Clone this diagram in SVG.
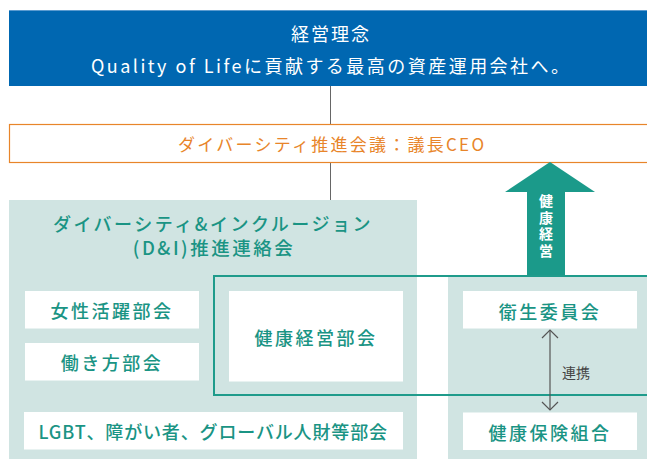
<svg xmlns="http://www.w3.org/2000/svg" width="647" height="459" viewBox="0 0 647 459">
<defs>
<style>
text{font-family:"Noto Sans CJK JP","Noto Sans",sans-serif;text-anchor:middle;dominant-baseline:central}
.white{fill:#ffffff}
.teal{fill:#1a9484}
.box{fill:#ffffff}
.panel{fill:#d0e4e2}
.lbl{font-size:18px;font-weight:500;letter-spacing:2.5px;fill:#1a9484}
.conn{stroke:#666;stroke-width:1;fill:none}
.chev{stroke:#555;stroke-width:1.2;fill:none}
</style>
</defs>
<rect x="0" y="0" width="647" height="459" fill="#ffffff"/>

<g id="philosophy">
<rect x="9" y="10" width="640" height="76" fill="#0067b1"/>
<line x1="9" y1="10.5" x2="647" y2="10.5" stroke="#5b9bd0" stroke-width="1"/>
<text x="331" y="33" class="white" font-size="18" letter-spacing="2">経営理念</text>
<text x="331" y="65" class="white" font-size="18" letter-spacing="2" textLength="480">Quality of Lifeに貢献する最高の資産運用会社へ。</text>
</g>

<g id="connectors">
<line x1="330.5" y1="86" x2="330.5" y2="124" class="conn"/>
<line x1="330.5" y1="162" x2="330.5" y2="200" class="conn"/>
</g>

<g id="council">
<rect x="9.5" y="124.5" width="640" height="38" fill="#ffffff" stroke="#e8852a" stroke-width="1.2"/>
<text x="331" y="143" font-size="17" fill="#e8852a" textLength="306">ダイバーシティ推進会議：議長CEO</text>
</g>

<g id="di-panel">
<rect x="9" y="200" width="408" height="262" class="panel"/>
<text x="213" y="223" class="teal" font-size="18" font-weight="500" letter-spacing="2.5">ダイバーシティ&amp;インクルージョン</text>
<text x="214" y="247" class="teal" font-size="18.5" font-weight="500" letter-spacing="2.5">(D&amp;I)推進連絡会</text>
</g>

<g id="right-panel">
<rect x="448" y="277" width="202" height="185" class="panel"/>
</g>

<g id="health-arrow">
<polygon points="550,162 595,192 565,192 565,277 527,277 527,192 505,192" fill="#1b9a8a"/>
<text x="546" y="194" class="white" font-size="14" font-weight="700" writing-mode="vertical-rl" letter-spacing="2.5" style="text-anchor:start;dominant-baseline:auto">健康経営</text>
</g>

<g id="women">
<rect x="25" y="291" width="174" height="37.5" class="box"/>
<text x="112" y="310" class="lbl">女性活躍部会</text>
</g>
<g id="workstyle">
<rect x="25" y="343" width="174" height="37.5" class="box"/>
<text x="112" y="362" class="lbl">働き方部会</text>
</g>
<g id="lgbt">
<rect x="24" y="412" width="379" height="37.5" class="box"/>
<text x="214" y="431" class="lbl" letter-spacing="0" textLength="351">LGBT、障がい者、グローバル人財等部会</text>
</g>
<g id="health-mgmt">
<rect x="229" y="291" width="174" height="90.5" class="box"/>
<text x="316" y="337" class="lbl">健康経営部会</text>
</g>
<g id="health-frame">
<rect x="214" y="276" width="440" height="119" fill="none" stroke="#1f9b8b" stroke-width="2"/>
</g>
<g id="hygiene">
<rect x="463" y="291" width="174" height="37.5" class="box"/>
<text x="550" y="310.5" class="lbl">衛生委員会</text>
</g>
<g id="insurance">
<rect x="463" y="412.5" width="174" height="37.5" class="box"/>
<text x="550" y="431.5" class="lbl">健康保険組合</text>
</g>

<g id="link">
<line x1="550" y1="330" x2="550" y2="410" stroke="#555" stroke-width="1.2"/>
<path d="M542,338 L550,330 L558,338" class="chev"/>
<path d="M542,402 L550,410 L558,402" class="chev"/>
<text x="576" y="372" font-size="14" fill="#444">連携</text>
</g>
</svg>
